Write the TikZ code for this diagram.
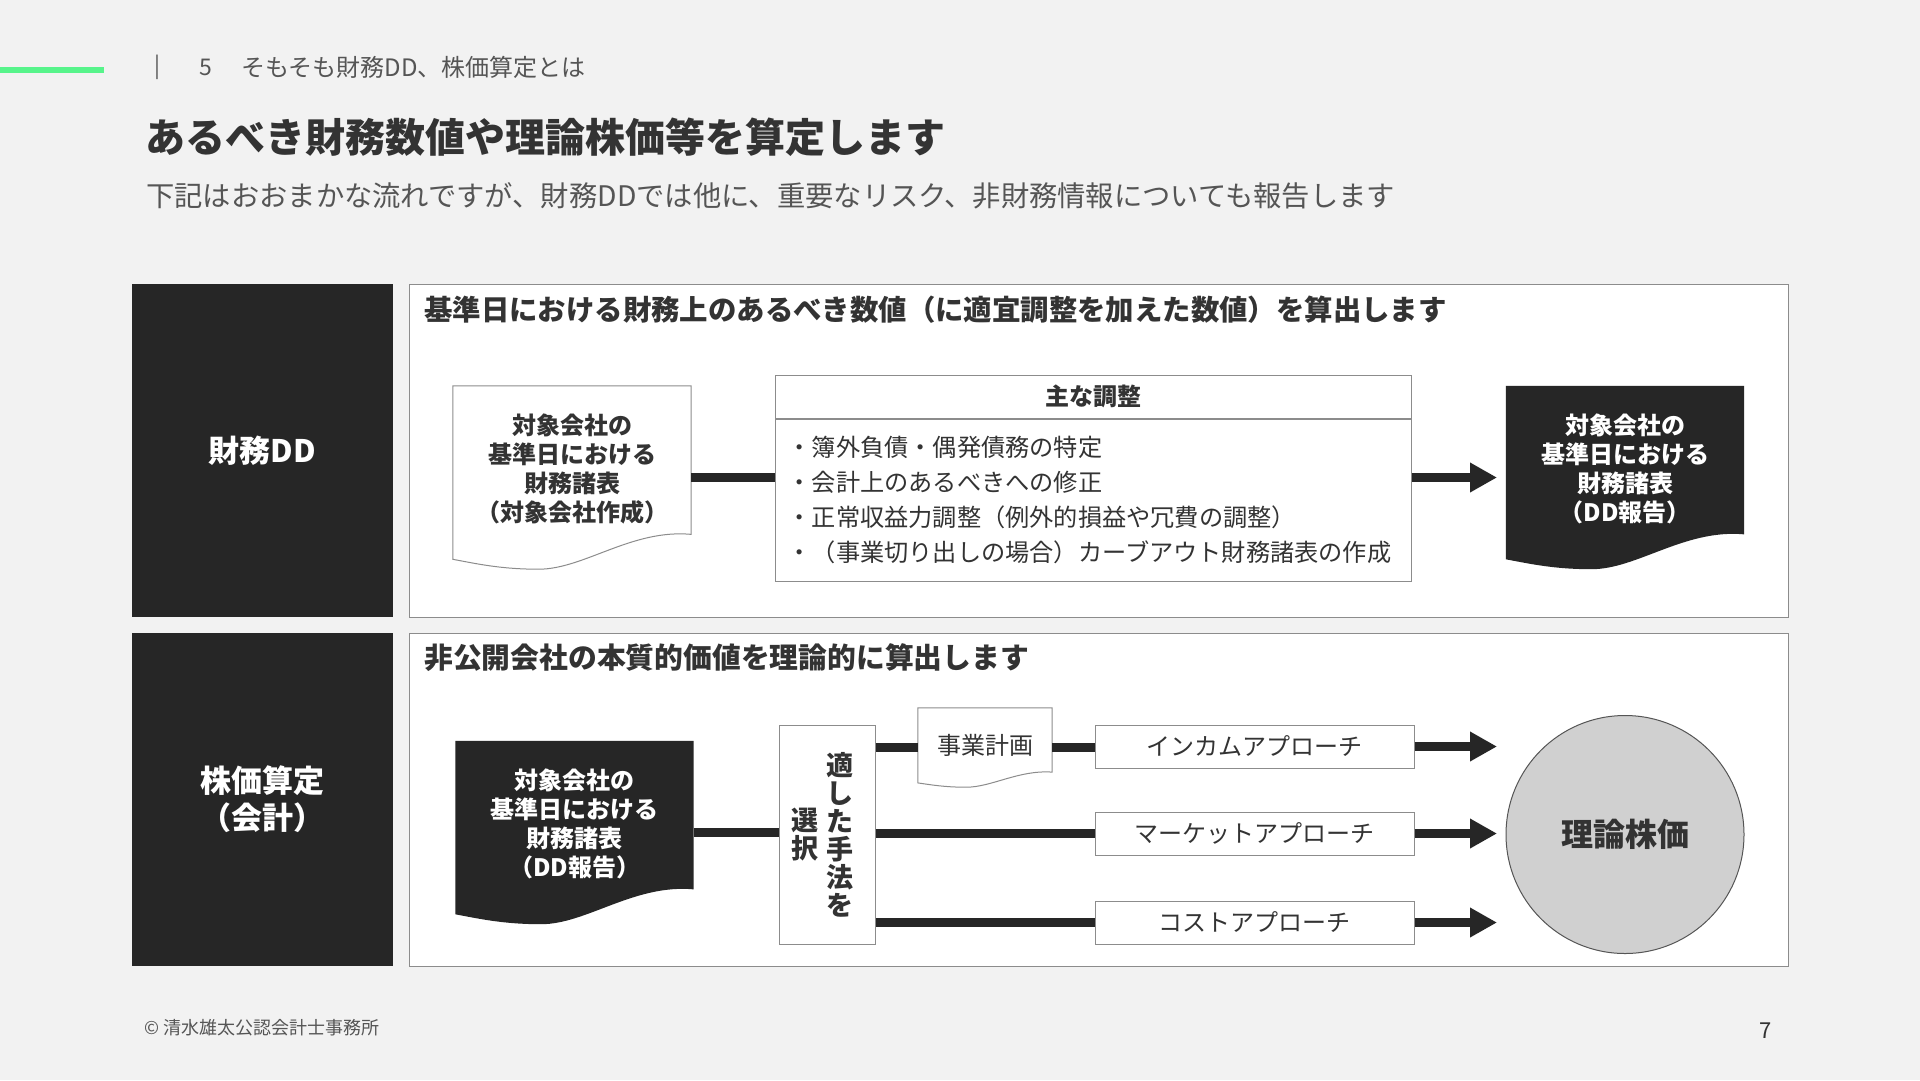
\documentclass[tikz,border=0pt]{standalone}
\usepackage{fontspec}
\setmainfont{Noto Sans CJK JP}
\usetikzlibrary{positioning,calc,arrows.meta}
\definecolor{pagegray}{HTML}{F2F2F2}
\definecolor{inkdark}{HTML}{262626}
\definecolor{textdark}{HTML}{333333}
\definecolor{textmid}{HTML}{555555}
\definecolor{framegray}{HTML}{8C8C8C}
\definecolor{accentgreen}{HTML}{57F48B}
\definecolor{valuegray}{HTML}{D0D0D0}
\newcommand{\fs}[2]{\fontsize{#1}{#2}\selectfont}
% a document sheet with a wavy lower edge, drawn over the frame of node #1
\newcommand{\wavedoc}[2]{%
  \path[#2] let \p1=(#1.north west), \p2=(#1.south east) in
    (\x1,\y1) -- (\x2,\y1) -- (\x2,{\y1+0.81*(\y2-\y1)})
    .. controls ({\x1+0.75*(\x2-\x1)},{\y1+0.78*(\y2-\y1)}) and ({\x1+0.55*(\x2-\x1)},\y2) .. ({\x1+0.36*(\x2-\x1)},\y2)
    .. controls ({\x1+0.2*(\x2-\x1)},\y2) and ({\x1+0.1*(\x2-\x1)},{\y1+0.97*(\y2-\y1)}) .. (\x1,{\y1+0.946*(\y2-\y1)})
    -- cycle;}
\tikzset{
  panel/.style={rectangle,draw=framegray,line width=1pt,fill=white,inner sep=0},
  sidebar/.style={rectangle,fill=inkdark,inner sep=0,minimum width=261pt,minimum height=333pt,
                  text=white,font=\fs{31}{37}\bfseries,align=center},
  docu/.style={rectangle,inner sep=0,minimum width=238pt,minimum height=183pt},
  doctext/.style={font=\fs{24}{29}\bfseries,align=center,text=textdark,inner sep=0},
  method/.style={panel,minimum width=319pt,minimum height=43pt,font=\fs{24}{29},text=textdark},
  heading/.style={anchor=west,font=\fs{28.4}{34}\bfseries,text=textdark,inner sep=0},
  bar/.style={line width=9pt,draw=inkdark},
  arrow/.style={bar,-{Triangle[length=27pt,width=28pt]}},
}
\begin{document}
\begin{tikzpicture}[x=1pt,y=-1pt]
  \fill[pagegray] (0,0) rectangle (1920,1080);
  \useasboundingbox (0,0) rectangle (1920,1080);
  % page header
  \draw[accentgreen,line width=6pt] (0,70) -- (104,70);
  \node[font=\fs{22}{26},text=textmid] (sepbar) at (157,67) {|};
  \node[font=\fs{23}{26},text=textmid] (secnum) at (206,67) {5};
  \node[anchor=west,inner sep=0,font=\fs{24}{28},text=textmid] (sectitle) at (241,67) {そもそも財務DD、株価算定とは};
  \node[anchor=west,inner sep=0,font=\fs{40}{48}\bfseries,text=textdark] (title) at (145,137) {あるべき財務数値や理論株価等を算定します};
  \node[anchor=west,inner sep=0,font=\fs{28.3}{34},text=textmid] (subtitle) at (146,196) {下記はおおまかな流れですが、財務DDでは他に、重要なリスク、非財務情報についても報告します};
  \coordinate (tipx) at (1497,0);

  % financial due diligence
  \node[sidebar] (ddlabel) at (262.5,450.5) {財務DD};
  \node[panel,minimum width=1379pt,minimum height=333pt] (ddpanel) at (1098.5,450.5) {};
  \node[heading] (ddhead) at (424,310) {基準日における財務上のあるべき数値（に適宜調整を加えた数値）を算出します};
  \node[docu] (srcdoc) at (572,477.5) {};
  \wavedoc{srcdoc}{draw=framegray,line width=1pt,fill=white}
  \node[doctext] (srctext) at ($(srcdoc.center)+(0,-9)$) {対象会社の\\基準日における\\財務諸表\\（対象会社作成）};
  \node[panel,minimum width=636pt,minimum height=43pt,font=\fs{24}{29}\bfseries,text=textdark] (adjhead) at (1093,396.5) {主な調整};
  \node[panel,minimum width=636pt,minimum height=162pt,anchor=north] (adjbody) at (adjhead.south) {};
  \node[anchor=west,inner sep=0,align=left,font=\fs{24.2}{34.7},text=textdark] (adjlist) at ($(adjbody.west)+(13,0)$)
    {・簿外負債・偶発債務の特定\\・会計上のあるべきへの修正\\・正常収益力調整（例外的損益や冗費の調整）\\・（事業切り出しの場合）カーブアウト財務諸表の作成};
  \node[docu] (repdoc) at (1625,477.5) {};
  \wavedoc{repdoc}{fill=inkdark}
  \node[doctext,text=white] (reptext) at ($(repdoc.center)+(0,-9)$) {対象会社の\\基準日における\\財務諸表\\（DD報告）};
  \draw[bar] (srcdoc.east) -- (srcdoc.east -| adjbody.west);
  \draw[arrow] (adjbody.east |- repdoc.west) -- (tipx |- repdoc.west);

  % share valuation
  \node[sidebar] (vallabel) at (262.5,799.5) {株価算定\\（会計）};
  \node[panel,minimum width=1379pt,minimum height=333pt] (valpanel) at (1098.5,799.5) {};
  \node[heading,font=\fs{28.8}{34}\bfseries] (valhead) at (424,658) {非公開会社の本質的価値を理論的に算出します};
  \node[docu] (dddoc) at (574.5,832.5) {};
  \wavedoc{dddoc}{fill=inkdark}
  \node[doctext,text=white] (ddtext) at ($(dddoc.center)+(0,-9)$) {対象会社の\\基準日における\\財務諸表\\（DD報告）};
  \node[panel,minimum width=96pt,minimum height=219pt] (select) at (827,834.5) {};
  \node[align=center,inner sep=0,font=\fs{27}{28}\bfseries,text=textdark] (selright) at ($(select.center)+(13,0)$) {適\\し\\た\\手\\法\\を};
  \node[align=center,inner sep=0,font=\fs{27}{28}\bfseries,text=textdark] (selleft) at ($(select.center)+(-22.5,0)$) {選\\択};
  \node[docu,minimum width=134pt,minimum height=79pt] (plandoc) at (985,747.5) {};
  \wavedoc{plandoc}{draw=framegray,line width=1pt,fill=white}
  \node[inner sep=0,font=\fs{24}{29},text=textdark] (plantext) at ($(plandoc.center)+(0,-2)$) {事業計画};
  \node[method] (income) at (1254.5,746.5) {インカムアプローチ};
  \node[method] (market) at (1254.5,833.5) {マーケットアプローチ};
  \node[method] (cost) at (1254.5,922.5) {コストアプローチ};
  \node[circle,draw=textmid,line width=1pt,fill=valuegray,minimum size=238pt,inner sep=0,
        font=\fs{32}{38}\bfseries,text=textdark] (theory) at (1625,834.5) {理論株価};
  \draw[bar] (dddoc.east) -- (dddoc.east -| select.west);
  \draw[bar] (select.east |- plandoc.west) -- (plandoc.west);
  \draw[bar] (plandoc.east) -- (plandoc.east -| income.west);
  \draw[bar] (select.east |- market.west) -- (market.west);
  \draw[bar] (select.east |- cost.west) -- (cost.west);
  \foreach \m in {income,market,cost} { \draw[arrow] (\m.east) -- (\m.east -| tipx); }

  % footer
  \node[anchor=west,inner sep=0,font=\fs{18}{22},text=textmid] (credit) at (144,1028) {© 清水雄太公認会計士事務所};
  \node[font=\fs{22}{26},text=textdark] (pagenum) at (1766,1031) {7};
\end{tikzpicture}
\end{document}
